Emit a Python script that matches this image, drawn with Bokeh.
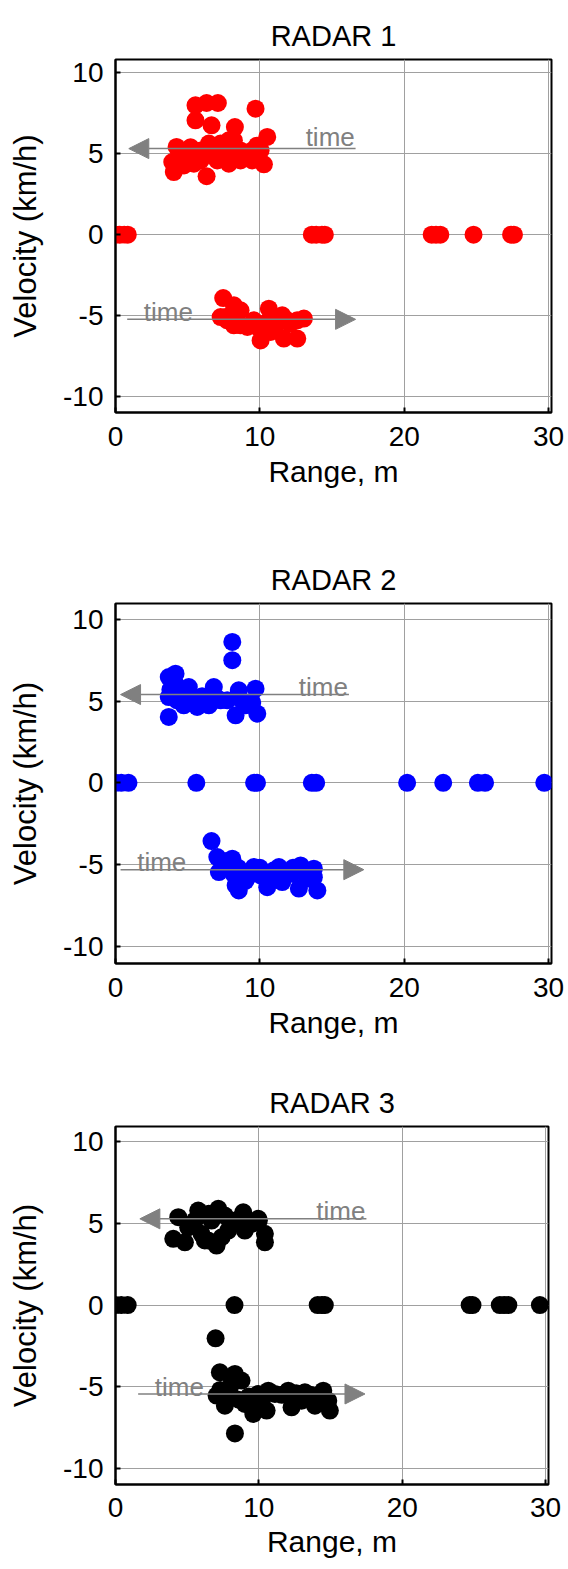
from bokeh.plotting import figure
from bokeh.layouts import column
from bokeh.models import FixedTicker, Arrow, NormalHead, Range1d, ColumnDataSource
from bokeh.core.properties import value
from bokeh.embed import file_html
from bokeh.resources import INLINE

FONT = "Liberation Sans"
titles = ["RADAR 1", "RADAR 2", "RADAR 3"]
x_label = "Range, m"
y_label = "Velocity (km/h)"
x_ticks = [0, 10, 20, 30]
y_ticks = [-10, -5, 0, 5, 10]
y_tick_labels = {-10: "-10", -5: "-5", 0: "0", 5: "5", 10: "10"}
colors = ["#ff0000", "#0000ff", "#000000"]
time_text = "time"

# ---------------- RADAR 1 ----------------
r1_up_x = [5.54, 6.31, 7.09, 9.70, 5.54, 6.65, 8.27, 10.51, 4.23, 3.93, 4.04, 6.31, 10.28,
           4.97, 5.89, 6.47, 7.28, 7.85, 8.2, 8.66, 9.47, 10.05, 7.05, 7.85, 8.66, 9.47,
           4.74, 5.43, 5.89, 4.5, 5.2, 6.0, 6.9, 7.5, 8.4, 9.0, 9.8, 4.3]
r1_up_y = [8.0, 8.14, 8.14, 7.79, 7.07, 6.76, 6.65, 6.04, 5.42, 4.49, 3.87, 3.61, 4.35,
           5.01, 5.21, 5.63, 5.63, 5.83, 5.83, 5.21, 5.21, 5.21, 4.59, 4.39, 4.59, 4.59,
           4.28, 4.39, 4.59, 5.0, 5.4, 4.9, 5.2, 5.0, 4.9, 5.0, 5.5, 4.7]
r1_dn_x = [7.46, 8.2, 8.66, 7.62, 8.2, 9.13, 10.05, 10.62, 11.55, 10.74, 11.66, 12.59, 13.05,
           9.58, 10.51, 11.2, 12.1, 7.74, 9.82, 10.97, 11.9, 8.66, 7.28, 12.59]
r1_dn_y = [-3.92, -4.37, -4.68, -5.1, -5.61, -5.71, -6.54, -4.58, -4.99, -6.02, -6.43, -6.43, -5.19,
           -5.3, -5.4, -5.5, -5.5, -5.3, -5.71, -5.71, -5.3, -5.61, -5.1, -5.3]
r1_zero_x = [0.0, 0.3, 0.6, 0.85, 13.6, 13.9, 14.3, 14.5, 21.9, 22.2, 22.5, 24.8, 27.4, 27.6]

# ---------------- RADAR 2 ----------------
r2_up_x = [8.09, 8.09, 4.16, 3.69, 3.69, 5.08, 6.81, 8.54, 9.7, 9.82, 8.32, 5.66,
           4.73, 6.47, 7.28, 7.74, 9.01, 4.27, 3.69, 5.2, 5.89, 8.43, 9.47, 4.5, 6.0, 7.0,
           3.8, 4.2, 5.5, 8.8]
r2_up_y = [8.62, 7.5, 6.68, 6.47, 4.03, 5.86, 5.86, 5.66, 5.76, 4.23, 4.13, 4.64,
           4.74, 4.74, 5.05, 5.05, 4.74, 5.05, 5.25, 5.25, 4.9, 5.25, 4.9, 5.5, 5.3, 5.2,
           5.7, 6.0, 5.1, 5.0]
r2_dn_x = [6.65, 7.05, 8.09, 7.16, 8.54, 8.32, 9.58, 10.51, 11.32, 11.55, 12.82, 12.7, 13.74,
           13.98, 13.74, 9.13, 10.05, 12.25, 13.28, 10.97, 7.6, 8.5, 9.0, 10.0, 11.0, 12.3, 8.2]
r2_dn_y = [-3.56, -4.54, -4.64, -5.46, -6.58, -6.27, -5.15, -6.38, -5.15, -6.07, -5.05, -6.47, -5.25,
           -6.58, -5.77, -5.77, -5.66, -5.56, -5.86, -5.35, -4.8, -5.2, -6.0, -5.2, -5.9, -5.2, -5.6]
r2_zero_x = [0.0, 0.4, 0.9, 5.6, 9.6, 9.8, 13.6, 13.9, 20.2, 22.7, 25.1, 25.6, 29.7]

# ---------------- RADAR 3 ----------------
r3_up_x = [4.38, 4.03, 4.84, 5.77, 7.17, 8.91, 9.96, 10.42, 7.05, 6.47,
           6.0, 7.86, 9.02, 5.53, 6.7, 8.33, 9.49, 10.42, 6.5, 7.63, 8.79, 5.07, 7.4, 6.23, 10.0]
r3_up_y = [5.39, 4.06, 3.85, 5.8, 5.9, 5.69, 5.29, 3.85, 3.65, 3.96,
           4.37, 4.57, 4.57, 5.18, 5.18, 5.18, 4.98, 4.37, 5.6, 5.49, 5.39, 4.77, 4.16, 3.96, 5.18]
r3_dn_x = [6.98, 7.28, 8.33, 8.33, 7.05, 7.63, 8.79, 9.02, 9.61, 10.54, 11.12, 12.05, 12.28,
           13.21, 13.91, 14.49, 14.95, 14.84, 9.96, 12.98, 10.66, 7.98, 7.3, 7.8, 8.6, 9.3,
           10.2, 11.6, 12.6, 13.6, 14.2, 8.1, 9.9]
r3_dn_y = [-2.04, -4.12, -4.22, -7.87, -5.55, -6.17, -4.63, -6.06, -6.67, -6.47, -5.45, -5.25, -6.27,
           -5.35, -6.17, -5.25, -6.47, -5.86, -5.45, -5.86, -5.25, -5.04, -5.2, -5.5, -5.8, -5.6,
           -5.9, -5.5, -5.4, -5.5, -5.7, -4.5, -6.2]
r3_zero_x = [0.0, 0.4, 0.85, 8.3, 14.1, 14.4, 14.6, 24.7, 24.9, 26.8, 27.1, 27.4, 29.6]

# "time" arrows: (x_start, x_end, y) for the approaching (upper) and receding (lower) tracks
arrow_up = [(16.63, 0.92, 5.32), (16.17, 0.35, 5.40), (17.5, 1.7, 5.29)]
arrow_dn = [(0.81, 16.63, -5.24), (0.35, 17.2, -5.31), (1.58, 17.4, -5.45)]
time_up = [(13.17, 6.04), (12.7, 5.86), (14.0, 5.75)]
time_dn = [(1.96, -4.79), (1.5, -4.85), (2.74, -5.04)]

series = [
    (r1_up_x + r1_dn_x + r1_zero_x, r1_up_y + r1_dn_y + [0.0] * len(r1_zero_x)),
    (r2_up_x + r2_dn_x + r2_zero_x, r2_up_y + r2_dn_y + [0.0] * len(r2_zero_x)),
    (r3_up_x + r3_dn_x + r3_zero_x, r3_up_y + r3_dn_y + [0.0] * len(r3_zero_x)),
]

# layout (pixels) per panel
layout = [
    dict(top=59, fh=353, bottom=88, left=115, fw=436, right=17, y0=-11.0, y1=10.83, xs=14, xl=6),
    dict(top=103, fh=360, bottom=88, left=115, fw=436, right=17, y0=-11.05, y1=10.97, xs=14, xl=6),
    dict(top=75, fh=358, bottom=84, left=114, fw=433, right=21, y0=-11.0, y1=10.95, xs=13, xl=5),
]

GRAY = "#808080"
figs = []
for i in range(3):
    L = layout[i]
    p = figure(frame_width=L["fw"], frame_height=L["fh"],
               min_border_left=L["left"], min_border_right=L["right"],
               min_border_top=L["top"], min_border_bottom=L["bottom"],
               x_range=Range1d(0, 30.2), y_range=Range1d(L["y0"], L["y1"]),
               output_backend="svg", toolbar_location=None, title=titles[i])
    p.background_fill_color = "white"
    p.border_fill_color = "white"
    p.outline_line_color = "black"
    p.outline_line_width = 2

    p.title.text_font = FONT
    p.title.text_font_size = "29px"
    p.title.text_font_style = "normal"
    p.title.align = "center"
    p.title.standoff = 16
    p.title.text_color = "black"

    p.xaxis.ticker = FixedTicker(ticks=x_ticks)
    p.yaxis.ticker = FixedTicker(ticks=y_ticks)
    p.yaxis.major_label_overrides = y_tick_labels
    for ax in (p.xaxis[0], p.yaxis[0]):
        ax.axis_line_width = 2
        ax.axis_line_color = "black"
        ax.major_tick_in = 5
        ax.major_tick_out = 0
        ax.major_tick_line_width = 2
        ax.minor_tick_line_color = None
        ax.major_label_text_font = FONT
        ax.major_label_text_font_size = "28px"
        ax.major_label_text_color = "black"
        ax.axis_label_text_font = FONT
        ax.axis_label_text_font_style = "normal"
        ax.axis_label_text_color = "black"
    p.xaxis.axis_label = x_label
    p.yaxis.axis_label = y_label
    p.xaxis.axis_label_text_font_size = "30px"
    p.yaxis.axis_label_text_font_size = "31px"
    p.xaxis.major_label_standoff = L["xs"]
    p.xaxis.axis_label_standoff = L["xl"]
    p.yaxis.major_label_standoff = 12
    p.yaxis.axis_label_standoff = 17

    p.grid.grid_line_color = "#a0a0a0"
    p.grid.grid_line_width = 1

    xs, ys = series[i]
    src = ColumnDataSource(dict(x=xs, y=ys))
    p.scatter("x", "y", source=src, size=18, marker="circle",
              fill_color=colors[i], line_color=colors[i], line_width=0)

    for (xa, xb, ya) in (arrow_up[i], arrow_dn[i]):
        p.add_layout(Arrow(end=NormalHead(size=20, fill_color=GRAY, line_color=GRAY),
                           x_start=xa, y_start=ya, x_end=xb, y_end=ya,
                           line_color=GRAY, line_width=1.5))
    tsrc = ColumnDataSource(dict(x=[time_up[i][0], time_dn[i][0]],
                                 y=[time_up[i][1], time_dn[i][1]],
                                 t=[time_text, time_text]))
    p.text("x", "y", text="t", source=tsrc, text_font=value(FONT),
           text_font_size="26px", text_color=GRAY,
           text_align="left", text_baseline="alphabetic")
    figs.append(p)

layout_col = column(*figs, spacing=0)
open("out.html", "w").write(file_html(layout_col, INLINE))
